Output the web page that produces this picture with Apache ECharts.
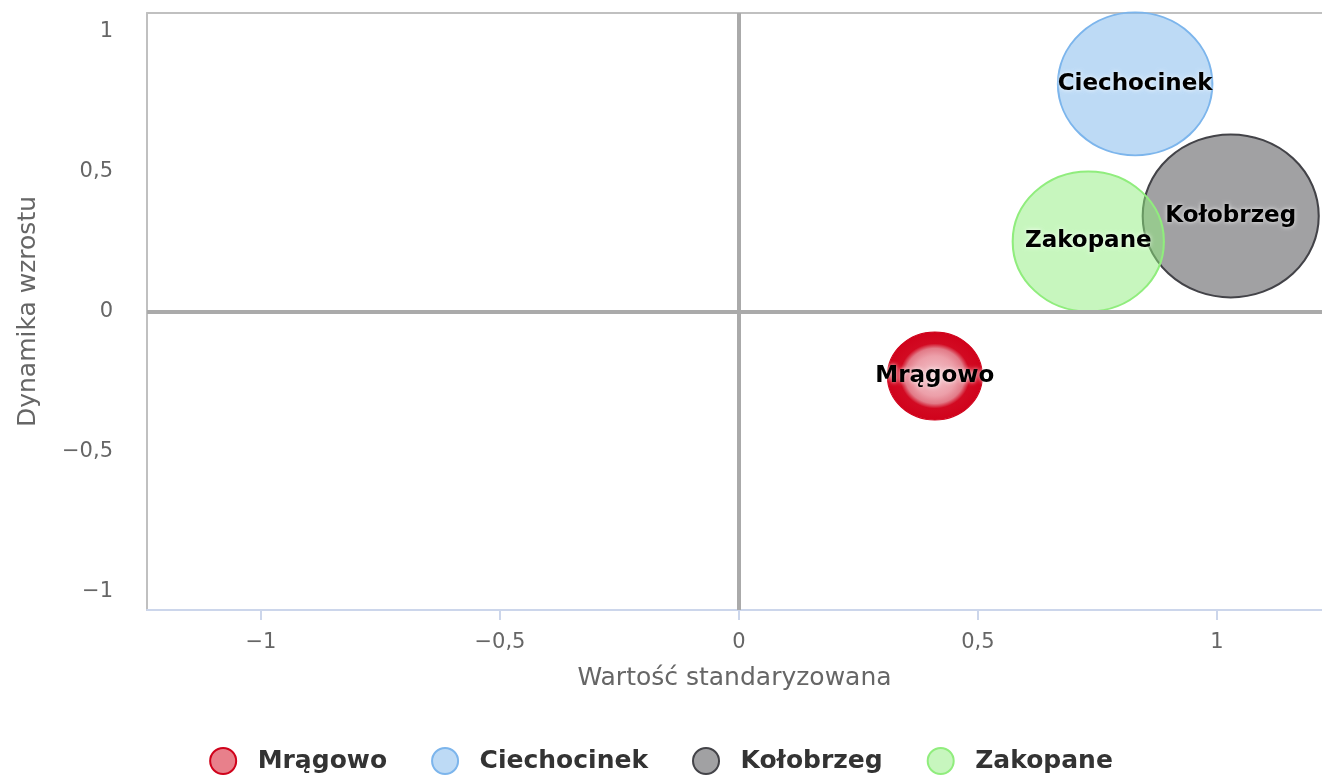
<!DOCTYPE html>
<html>
<head>
<meta charset="utf-8">
<script src="https://cdn.jsdelivr.net/npm/echarts@6/dist/echarts.min.js"></script>
<style>
  html, body { margin: 0; padding: 0; background: #fff; }
  #main { width: 1322px; height: 777px; }
</style>
</head>
<body>
<div id="main"></div>
<script>
// dane
var names = ['Mrągowo', 'Ciechocinek', 'Kołobrzeg', 'Zakopane'];
var xValues = [0.410, 0.829, 1.029, 0.731];
var yValues = [-0.230, 0.812, 0.341, 0.250];
var zValues = [88, 143, 163, 140];
var tickValues = [-1, -0.5, 0, 0.5, 1];

var fmt = function (v) {
    return String(v).replace('-', '\u2212').replace('.', ',');
};

var styles = [
    {
        color: {
            type: 'radial', x: 0.5, y: 0.5, r: 0.5,
            colorStops: [
                { offset: 0, color: '#f3c6cc' },
                { offset: 0.45, color: '#ec9fa9' },
                { offset: 0.62, color: '#e27b88' },
                { offset: 0.73, color: '#d20a22' },
                { offset: 1, color: '#d0021b' }
            ]
        },
        borderColor: '#d0021b', borderWidth: 1, opacity: 1
    },
    { color: 'rgba(124,181,236,0.5)', borderColor: '#7cb5ec', borderWidth: 2, opacity: 1 },
    { color: 'rgba(67,67,72,0.5)', borderColor: '#434348', borderWidth: 2, opacity: 1 },
    { color: 'rgba(144,237,125,0.5)', borderColor: '#90ed7d', borderWidth: 2, opacity: 1 }
];
var legendStyles = [
    { color: '#e8808b', borderColor: '#d0021b', borderWidth: 2, opacity: 1 },
    { color: 'rgba(124,181,236,0.5)', borderColor: '#7cb5ec', borderWidth: 2, opacity: 1 },
    { color: 'rgba(67,67,72,0.5)', borderColor: '#434348', borderWidth: 2, opacity: 1 },
    { color: 'rgba(144,237,125,0.5)', borderColor: '#90ed7d', borderWidth: 2, opacity: 1 }
];

var series = names.map(function (n, i) {
    return {
        name: n,
        type: 'scatter',
        symbol: 'circle',
        symbolSize: function (val) { return [val[2] * 1.08, val[2]]; },
        data: [[xValues[i], yValues[i], zValues[i]]],
        itemStyle: styles[i],
        label: {
            show: true,
            position: 'inside',
            formatter: n,
            color: '#000',
            fontFamily: 'DejaVu Sans',
            fontWeight: 'bold',
            fontSize: 23,
            textShadowColor: 'rgba(255,255,255,0.9)',
            textShadowBlur: 4
        },
        emphasis: { disabled: true },
        z: 3
    };
});

// linie zerowe
series.push({
    type: 'scatter',
    data: [],
    silent: true,
    z: 2,
    markLine: {
        silent: true,
        symbol: 'none',
        label: { show: false },
        lineStyle: { color: '#aaaaaa', width: 4, type: 'solid' },
        data: [{ xAxis: 0 }, { yAxis: 0 }]
    }
});

var myChart = echarts.init(document.getElementById('main'));
myChart.setOption({
    animation: false,
    textStyle: { fontFamily: 'DejaVu Sans' },
    grid: { left: 147, right: 0, top: 13, bottom: 167 },
    legend: {
        bottom: 2,
        left: 'center',
        padding: 0,
        icon: 'circle',
        itemWidth: 27,
        itemHeight: 26,
        itemGap: 44,
        textStyle: { color: '#333', fontSize: 25, fontWeight: 'bold', fontFamily: 'DejaVu Sans', padding: [0, 0, 0, 16] },
        data: names.map(function (n, i) { return { name: n, itemStyle: legendStyles[i] }; })
    },
    xAxis: [{
        type: 'value',
        min: -1.2385,
        max: 1.22,
        name: 'Wartość standaryzowana',
        nameLocation: 'middle',
        nameGap: 56,
        nameTextStyle: { color: '#666', fontSize: 25 },
        splitLine: { show: false },
        axisLine: { show: true, onZero: false, lineStyle: { color: '#ccd6eb', width: 2 } },
        axisTick: { show: true, length: 10, customValues: tickValues, lineStyle: { color: '#ccd6eb', width: 2 } },
        axisLabel: { customValues: tickValues, color: '#666', fontSize: 21, margin: 22, formatter: fmt }
    }, {
        type: 'value',
        position: 'top',
        min: -1.2385,
        max: 1.22,
        splitLine: { show: false },
        axisLine: { show: true, onZero: false, lineStyle: { color: '#c0c0c0', width: 2 } },
        axisTick: { show: false },
        axisLabel: { show: false }
    }],
    yAxis: {
        type: 'value',
        min: -1.065,
        max: 1.065,
        name: 'Dynamika wzrostu',
        nameLocation: 'middle',
        nameGap: 106,
        nameTextStyle: { color: '#666', fontSize: 25 },
        splitLine: { show: false },
        axisLine: { show: true, onZero: false, lineStyle: { color: '#c0c0c0', width: 2 } },
        axisTick: { show: false },
        axisLabel: { customValues: tickValues, color: '#666', fontSize: 21, margin: 34, formatter: fmt }
    },
    series: series
});
</script>
</body>
</html>
